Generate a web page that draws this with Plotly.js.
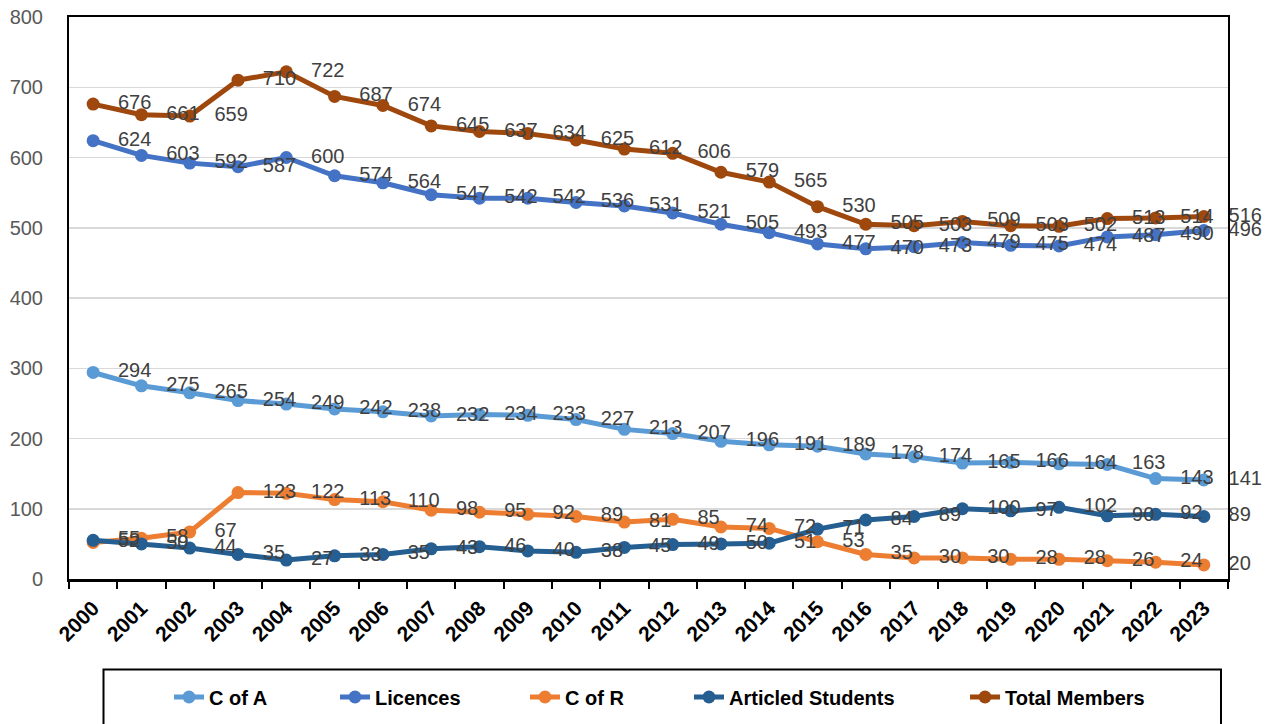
<!DOCTYPE html>
<html>
<head>
<meta charset="utf-8">
<script src="https://cdn.plot.ly/plotly-3.0.1.min.js"></script>
<style>html,body{margin:0;padding:0;background:#fff;}#chart{width:1279px;height:724px;}</style>
</head>
<body>
<div id="chart"></div>
<script>
const years = ['2000','2001','2002','2003','2004','2005','2006','2007','2008','2009','2010','2011','2012','2013','2014','2015','2016','2017','2018','2019','2020','2021','2022','2023'];
const cOfA = [294,275,265,254,249,242,238,232,234,233,227,213,207,196,191,189,178,174,165,166,164,163,143,141];
const licences = [624,603,592,587,600,574,564,547,542,542,536,531,521,505,493,477,470,473,479,475,474,487,490,496];
const cOfR = [52,58,67,123,122,113,110,98,95,92,89,81,85,74,72,53,35,30,30,28,28,26,24,20];
const articled = [55,50,44,35,27,33,35,43,46,40,38,45,49,50,51,71,84,89,100,97,102,90,92,89];
const totalMembers = [676,661,659,710,722,687,674,645,637,634,625,612,606,579,565,530,505,503,509,503,502,513,514,516];

const seriesNames = ['C of A','Licences','C of R','Articled Students','Total Members'];
const seriesData = [cOfA, licences, cOfR, articled, totalMembers];
const seriesColors = ['#5B9BD5','#4472C4','#ED7D31','#255E91','#9E480E'];
const legendIds = ['legend','legend2','legend3','legend4','legend5'];
const legendTextStartPx = [209,375,565,729,1005];

const traces = [];
seriesData.forEach((vals, i) => {
  traces.push({
    type: 'scatter', mode: 'lines+markers', name: seriesNames[i],
    x: years, y: vals, legend: legendIds[i],
    line: {color: seriesColors[i], width: 5},
    marker: {color: seriesColors[i], size: 13},
    hoverinfo: 'x+y+name'
  });
});
seriesData.forEach((vals, i) => {
  traces.push({
    type: 'scatter', mode: 'markers+text', showlegend: false,
    x: years, y: vals, text: vals.map(String),
    textposition: 'middle right', cliponaxis: false,
    textfont: {family: 'Liberation Sans, Arial, sans-serif', size: 20, color: '#404040'},
    marker: {size: 38, opacity: 0, color: seriesColors[i]},
    hoverinfo: 'skip'
  });
});

const W = 1279, H = 724;
const layout = {
  width: W, height: H,
  margin: {l: 69, r: 51, t: 17, b: 145},
  paper_bgcolor: '#ffffff', plot_bgcolor: '#ffffff',
  font: {family: 'Liberation Sans, Arial, sans-serif'},
  xaxis: {
    type: 'category', categoryorder: 'array', categoryarray: years,
    range: [-0.5, years.length - 0.5],
    tickangle: -45,
    tickfont: {family: 'Liberation Sans, Arial, sans-serif', size: 21, color: '#000000', weight: 'bold'},
    ticks: 'outside', tickson: 'boundaries', ticklen: 7, tickwidth: 2, tickcolor: '#000000',
    ticklabelstandoff: 6,
    showline: true, linecolor: '#000000', linewidth: 2.5, mirror: true,
    showgrid: false, zeroline: false, fixedrange: true
  },
  yaxis: {
    range: [0, 800], dtick: 100,
    showgrid: true, gridcolor: '#d9d9d9', gridwidth: 1.5,
    tickfont: {family: 'Liberation Sans, Arial, sans-serif', size: 20, color: '#595959'},
    ticks: '', ticklabelstandoff: 20,
    showline: true, linecolor: '#000000', linewidth: 2, mirror: true,
    zeroline: false, fixedrange: true
  },
  shapes: [{
    type: 'rect', xref: 'paper', yref: 'paper',
    x0: (103.5 - 69) / 1159, x1: (1221 - 69) / 1159,
    y0: (579 - 669.5) / 562, y1: (579 - 760) / 562,
    line: {color: '#000000', width: 2}, fillcolor: 'rgba(0,0,0,0)'
  }]
};
legendIds.forEach((id, i) => {
  layout[id] = {
    xref: 'container', yref: 'container',
    x: (legendTextStartPx[i] - 40) / W, y: 1 - 697 / H,
    xanchor: 'left', yanchor: 'middle', orientation: 'h',
    bgcolor: 'rgba(0,0,0,0)', borderwidth: 0,
    font: {family: 'Liberation Sans, Arial, sans-serif', size: 20, color: '#000000', weight: 'bold'}
  };
});

Plotly.newPlot('chart', traces, layout, {displayModeBar: false, staticPlot: true});
</script>
</body>
</html>
